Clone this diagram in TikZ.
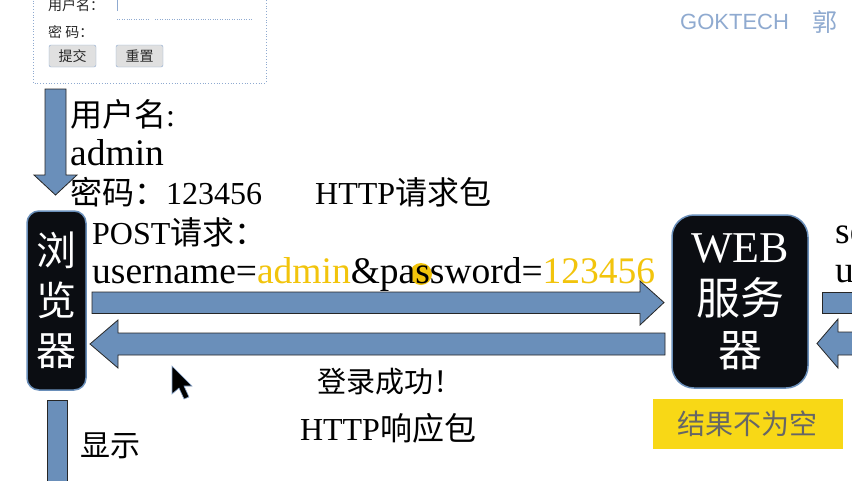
\documentclass[tikz,border=0pt]{standalone}
\usepackage{fontspec}
\setmainfont{Liberation Serif}
\newfontfamily\cjk{Noto Sans CJK SC}
\newfontfamily\wmfont{Liberation Sans}
\usetikzlibrary{positioning}

\definecolor{arrowblue}{HTML}{6A8FBA}
\definecolor{boxblack}{HTML}{0B0D12}
\definecolor{keygold}{HTML}{F2C40C}
\definecolor{notegold}{HTML}{F8D816}
\definecolor{markblue}{HTML}{8FAAD0}

\tikzset{
  txt/.style={anchor=base west, inner sep=0pt},
  mid/.style={anchor=base, inner sep=0pt},
  big/.style={font=\fontsize{32}{38}\selectfont},
  wide/.style={font=\fontsize{37.5}{42}\selectfont},
  small/.style={font=\cjk\fontsize{14}{16}\selectfont, text=black!85},
  blockarrow/.style={fill=arrowblue, draw=black!85, line width=0.8pt},
  hostbox/.style={draw=arrowblue, line width=1.5pt, fill=boxblack, text=white, align=center, inner sep=0pt},
  formbtn/.style={draw=markblue, fill=black!12, rounded corners=2pt, minimum width=47pt, minimum height=22pt, inner sep=0pt, small},
}

\begin{document}
\begin{tikzpicture}[x=1pt, y=-1pt]
   \useasboundingbox (0,0) rectangle (852,480);
   \clip (0,0) rectangle (852,480);
   \fill[white] (0,0) rectangle (852,480);

   % login form
   \draw[markblue, dotted, line width=0.8pt] (33,-5) rectangle (266,83);
   \node[txt, small] (form-user) at (48,10) {用户名：};
   \draw[markblue, line width=1pt] (117,0) -- (117,11);
   \draw[markblue, dotted] (117,19) -- (150,19);
   \draw[markblue, dotted] (155,19) -- (253,19);
   \node[txt, small] (form-pass) at (48,37) {密 码：};
   \node[formbtn] (form-submit) at (72.5,56) {提交};
   \node[formbtn] (form-reset) at (139.5,56) {重置};

   % watermark
   \node[txt, font=\wmfont\fontsize{22}{24}\selectfont, text=markblue] (mark) at (680,29) {GOKTECH};
   \node[txt, font=\cjk\fontsize{25}{27}\selectfont, text=markblue] (mark-name) at (812,31) {郭};

   % hosts
   \node[hostbox, rounded corners=12pt, minimum width=59pt, minimum height=179pt,
         font=\cjk\fontsize{40}{50}\selectfont] (browser) at (56.5,300.5) {浏\\览\\器};
   \node[hostbox, rounded corners=22pt, minimum width=136pt, minimum height=173pt,
         font=\fontsize{44}{52}\selectfont] (server) at (740,301.5) {WEB\\{\cjk 服务}\\{\cjk 器}};

   % input arrow
   \draw[blockarrow] (45,89) -- (66,89) -- (66,175) -- (77,175) -- (55.5,195) -- (34,175) -- (45,175) -- cycle;
   \node[txt, big] (user) at (70,126) {{\cjk 用户名}:};
   \node[txt, wide] (user-value) at (70,165) {admin};
   \node[txt, big] (pass) at (70,204) {{\cjk 密码：}123456};
   \node[txt, big] (request) at (315,204) {HTTP{\cjk 请求包}};

   % request
   \node[txt, big] (post) at (92,244) {POST{\cjk 请求：}};
   \fill[keygold] (421,274) circle (11);
   \node[txt, wide] (query) at (92,283) {username=\textcolor{keygold}{admin}\&password=\textcolor{keygold}{123456}};
   \coordinate (req-tail) at (92,302.5);
   \coordinate (req-head) at (664,302.5);
   \draw[blockarrow] (req-tail) ++(0,-10.5) -- ++(548,0) -- ++(0,-11) -- (req-head)
      -- ++(-24,22.5) -- ++(0,-11.5) -- ++(-548,0) -- cycle;

   % response
   \coordinate (resp-tail) at (665,344);
   \coordinate (resp-head) at (90,344);
   \draw[blockarrow] (resp-tail) ++(0,-11) -- ++(-547,0) -- ++(0,-13) -- (resp-head)
      -- ++(28,24) -- ++(0,-13) -- ++(547,0) -- cycle;
   \node[mid, font=\cjk\fontsize{29}{34}\selectfont] (login-ok) at (390,392) {登录成功！};
   \node[mid, big] (response) at (388,440) {HTTP{\cjk 响应包}};

   % result note
   \node[fill=notegold, minimum width=190pt, minimum height=50pt, inner sep=0pt,
         font=\cjk\fontsize{28}{30}\selectfont, text=black!60] (note) at (747.5,423.5) {结果不为空};

   % right side, cut off
   \node[txt, wide] (side-1) at (835,243) {se};
   \node[txt, wide] (side-2) at (835,282) {us};
   \draw[blockarrow] (822,292) rectangle (862,313);
   \coordinate (side-head) at (817,343.5);
   \draw[blockarrow] (side-head) -- (838,319) -- (838,332) -- (862,332) -- (862,355) -- (838,355) -- (838,368) -- cycle;

   % output arrow
   \draw[blockarrow] (47,400) rectangle (67,490);
   \node[txt, font=\cjk\fontsize{30}{34}\selectfont] (show) at (80,456) {显示};

   % mouse pointer
   \draw[fill=black, draw=markblue, line width=0.6pt, shift={(172,366)}]
      (0,0) -- (0,28) -- (7,22) -- (12,33) -- (17,31) -- (12,20) -- (20,20) -- cycle;
\end{tikzpicture}
\end{document}
